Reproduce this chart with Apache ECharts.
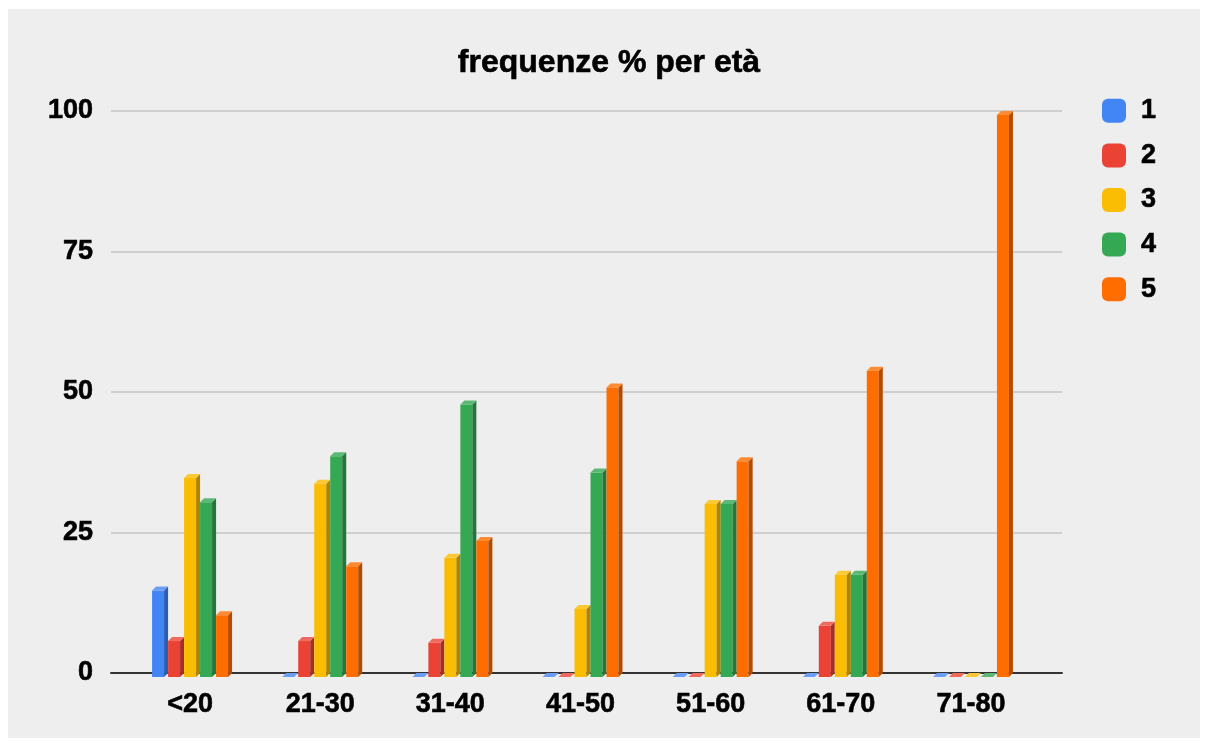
<!DOCTYPE html>
<html>
<head>
<meta charset="utf-8">
<script src="https://cdn.jsdelivr.net/npm/echarts@6/dist/echarts.min.js"></script>
<style>
  html, body { margin: 0; padding: 0; background: #ffffff; }
  #wrap { position: relative; width: 1210px; height: 747px; background: #ffffff; }
  #chart { position: absolute; left: 8px; top: 9px; width: 1192px; height: 729px; background: #eeeeee; }
</style>
</head>
<body>
<div id="wrap"><div id="chart"></div></div>
<script>
// fasce d'età
const categories = ['<20', '21-30', '31-40', '41-50', '51-60', '61-70', '71-80']
const seriesNames = ['1', '2', '3', '4', '5']
// frequenze %
const serie1 = [15.4, 0, 0, 0, 0, 0, 0]
const serie2 = [6.4, 6.4, 6.1, 0, 0, 9.1, 0]
const serie3 = [35.4, 34.4, 21.2, 12.1, 30.8, 18.2, 0]
const serie4 = [31.1, 39.3, 48.5, 36.4, 30.8, 18.2, 0]
const serie5 = [11.0, 19.7, 24.2, 51.5, 38.4, 54.5, 100]
const yTicks = [0, 25, 50, 75, 100]

const allSeries = [serie1, serie2, serie3, serie4, serie5]
// front / lato / top per il finto 3D
const palette = [
  { front: '#4285f4', side: '#2d5db0', top: '#6b9ff6' },
  { front: '#ea4335', side: '#a52f25', top: '#ee6a5e' },
  { front: '#fbbc04', side: '#b08403', top: '#fcc936' },
  { front: '#34a853', side: '#24763a', top: '#5cb975' },
  { front: '#ff6d01', side: '#b34c01', top: '#ff8a34' }
]

const FRONT_W = 12
const DEPTH = 4
const SLOT = 16

const chart = echarts.init(document.getElementById('chart'))

const renderBar = (params, api) => {
  const i = params.seriesIndex
  const c = palette[i]
  const center = api.coord([api.value(0), 0])
  const top = api.coord([api.value(0), api.value(1)])
  const x0 = center[0] - 38 + SLOT * i
  const yb = center[1] + DEPTH
  const yf = top[1] + DEPTH
  const w = FRONT_W
  const d = DEPTH
  const children = []
  if (yb - yf > 0.5) {
    children.push({
      type: 'rect',
      shape: { x: x0, y: yf, width: w, height: yb - yf },
      style: { fill: c.front }
    })
    children.push({
      type: 'polygon',
      shape: { points: [[x0 + w, yf], [x0 + w + d, yf - d], [x0 + w + d, yb - d], [x0 + w, yb]] },
      style: { fill: c.side }
    })
  }
  children.push({
    type: 'polygon',
    shape: { points: [[x0, yf], [x0 + w, yf], [x0 + w + d, yf - d], [x0 + d, yf - d]] },
    style: { fill: c.top }
  })
  return { type: 'group', children }
}

const labelFont = {
  color: '#000000',
  fontFamily: '"Liberation Sans", Arial, sans-serif',
  fontWeight: 'bold',
  fontSize: 27,
  textBorderColor: '#000000',
  textBorderWidth: 0.6
}

const option = {
  animation: false,
  title: {
    text: 'frequenze % per età',
    left: 596,
    top: 33,
    textAlign: 'center',
    textStyle: {
      color: '#000000',
      fontFamily: '"Liberation Sans", Arial, sans-serif',
      fontWeight: 'bold',
      fontSize: 32,
      textBorderColor: '#000000',
      textBorderWidth: 0.6
    }
  },
  legend: {
    orient: 'vertical',
    left: 1089,
    top: 83,
    itemWidth: 24,
    itemHeight: 24,
    itemGap: 17,
    icon: 'roundRect',
    data: seriesNames,
    textStyle: Object.assign({}, labelFont, { padding: [0, 0, 0, 10] })
  },
  grid: [
    { left: 103, top: 102, width: 951, height: 562 },
    { left: 117, top: 102, width: 911, height: 562 }
  ],
  xAxis: [
    {
      gridIndex: 0,
      type: 'value',
      min: 0,
      max: 1,
      axisLine: { show: true, lineStyle: { color: '#333333', width: 2 } },
      axisTick: { show: false },
      axisLabel: { show: false },
      splitLine: { show: false }
    },
    {
      gridIndex: 1,
      type: 'category',
      data: categories,
      axisLine: { show: false },
      axisTick: { show: false },
      axisLabel: Object.assign({ margin: 18 }, labelFont)
    }
  ],
  yAxis: [
    {
      gridIndex: 0,
      type: 'value',
      min: yTicks[0],
      max: yTicks[yTicks.length - 1],
      interval: 25,
      axisLine: { show: false },
      axisTick: { show: false },
      axisLabel: Object.assign({ margin: 18 }, labelFont),
      splitLine: { lineStyle: { color: '#c4c4c4', width: 1.5 } }
    },
    {
      gridIndex: 1,
      type: 'value',
      min: 0,
      max: 100,
      show: false
    }
  ],
  series: allSeries.map((vals, i) => ({
    name: seriesNames[i],
    type: 'custom',
    xAxisIndex: 1,
    yAxisIndex: 1,
    itemStyle: { color: palette[i].front },
    renderItem: renderBar,
    encode: { x: 0, y: 1 },
    data: vals.map((v, k) => [k, v])
  }))
}

chart.setOption(option)
</script>
</body>
</html>
